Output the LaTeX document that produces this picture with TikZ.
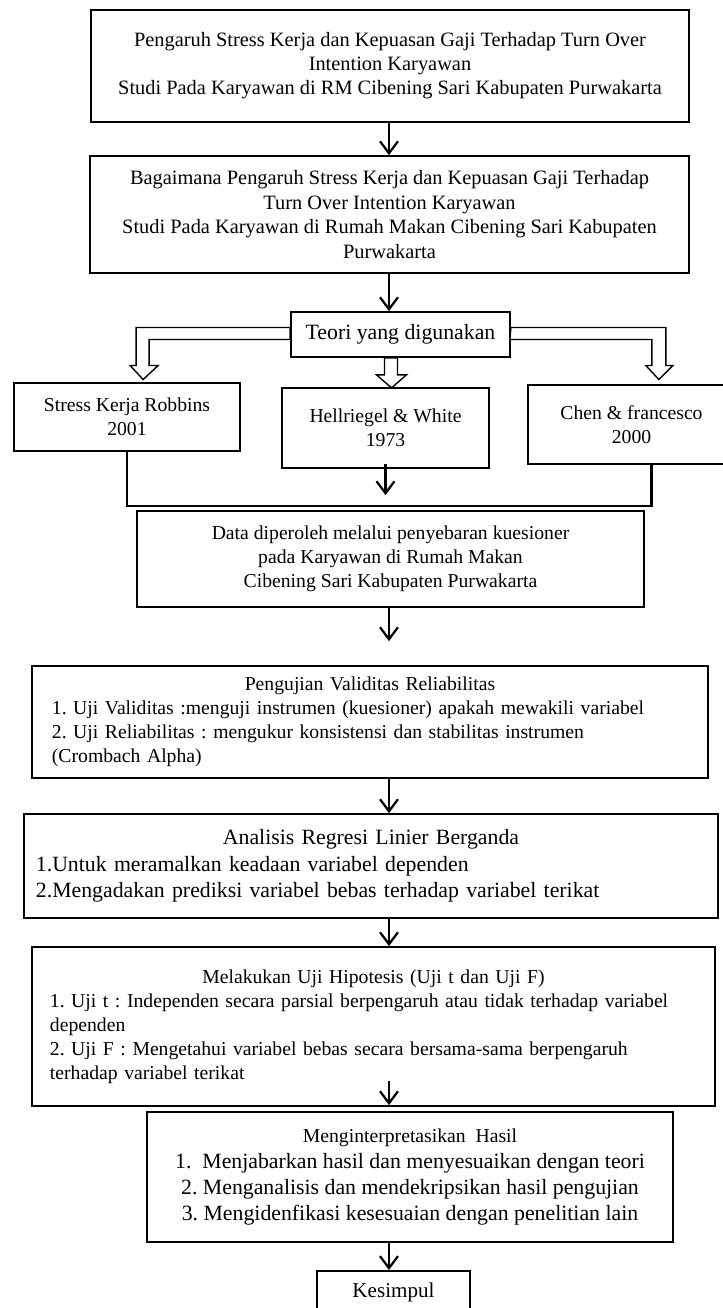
\documentclass[tikz,border=0pt]{standalone}
\usepackage{fontspec}
\setmainfont{Liberation Serif}
\usetikzlibrary{arrows.meta, positioning, calc}
\frenchspacing

\begin{document}
\begin{tikzpicture}[
    x=0.025cm, y=-0.025cm,
    kotak/.style={rectangle, draw, line width=1.2pt, align=center, inner sep=0pt, font=\fontsize{14}{17}\selectfont},
    daftar/.style={kotak, align=left, inner xsep=0.5cm},
    panah/.style={-{Straight Barb[length=3mm, width=4.5mm]}, line width=1.6pt},
    garis/.style={line width=1.6pt},
    blok/.style={draw, fill=white, line width=1pt}
]
    \useasboundingbox (0,0) rectangle (723,1308);
    \clip (0,0) rectangle (723,1308);
    \coordinate (sumbu) at (389,0);

    % judul dan rumusan masalah
    \node[kotak, minimum width=14.95cm, minimum height=2.8cm, font=\fontsize{14.5}{17}\selectfont] (judul) at (390,66) {Pengaruh Stress Kerja dan Kepuasan Gaji Terhadap Turn Over\\ Intention Karyawan\\ Studi Pada Karyawan di RM Cibening Sari Kabupaten Purwakarta};
    \node[kotak, minimum width=14.975cm, minimum height=2.925cm, font=\fontsize{14.5}{17.5}\selectfont] (rumusan) at (389.5,214.5) {Bagaimana Pengaruh Stress Kerja dan Kepuasan Gaji Terhadap\\ Turn Over Intention Karyawan\\ Studi Pada Karyawan di Rumah Makan Cibening Sari Kabupaten\\ Purwakarta};

    % teori
    \node[kotak, minimum width=5.475cm, minimum height=1.125cm, font=\fontsize{15.5}{18}\selectfont] (teori) at (400.5,334.5) {Teori yang digunakan};
    \node[kotak, minimum width=5.65cm, minimum height=1.7cm] (stress) at (127,417) {Stress Kerja Robbins\\ 2001};
    \node[kotak, minimum width=5.175cm, minimum height=2cm] (hell) at (385.5,428) {Hellriegel \& White\\ 1973};
    \node[kotak, minimum width=5.175cm, minimum height=1.975cm] (chen) at (631.5,424.5) {Chen \& francesco\\ 2000};

    \node[kotak, minimum width=12.675cm, minimum height=2.4cm] (data) at (390.5,559) {Data diperoleh melalui penyebaran kuesioner\\ pada Karyawan di Rumah Makan\\ Cibening Sari Kabupaten Purwakarta};

    % pengujian
    \node[daftar, text width=15.9cm, minimum height=2.8cm] (uji) at (370,722) {\centerline{Pengujian Validitas Reliabilitas}
        1. Uji Validitas :menguji instrumen (kuesioner) apakah mewakili variabel\\
        2. Uji Reliabilitas : mengukur konsistensi dan stabilitas instrumen\\
        (Crombach Alpha)};
    \node[daftar, inner xsep=0.3cm, text width=16.75cm, minimum height=2.6cm, font=\fontsize{15.5}{19}\selectfont] (analisis) at (371,866) {\centerline{Analisis Regresi Linier Berganda}
        1.Untuk meramalkan keadaan variabel dependen\\
        2.Mengadakan prediksi variabel bebas terhadap variabel terikat};
    \node[daftar, inner xsep=0.45cm, text width=16.175cm, minimum height=3.975cm] (hipo) at (373.5,1026.5) {\centerline{Melakukan Uji Hipotesis (Uji t dan Uji F)}
        1. Uji t : Independen secara parsial berpengaruh atau tidak terhadap variabel\\
        dependen\\
        2. Uji F : Mengetahui variabel bebas secara bersama-sama berpengaruh\\
        terhadap variabel terikat};
    \node[kotak, minimum width=13.15cm, minimum height=3.25cm, font=\fontsize{15.5}{18.5}\selectfont] (mengint) at (410,1177) {{\fontsize{14}{17}\selectfont Menginterpretasikan~ Hasil}\\
        1.~ Menjabarkan hasil dan menyesuaikan dengan teori\\
        2. Menganalisis dan mendekripsikan hasil pengujian\\
        3. Mengidenfikasi kesesuaian dengan penelitian lain};
    \node[kotak, anchor=north, minimum width=3.825cm, minimum height=1.1cm, font=\fontsize{15}{18}\selectfont] (kesimpul) at (393.5,1270) {Kesimpul};

    % panah
    \draw[panah] (judul.south -| sumbu) -- (rumusan.north -| sumbu);
    \draw[panah] (rumusan.south -| sumbu) -- (teori.north -| sumbu);
    \draw[blok] ($(teori.west)+(0,-7)$) -- ++(-154,0) -- ++(0,38) -- ++(-6,0) -- ++(13,14) -- ++(15,-14) -- ++(-9,0) -- ++(0,-26) -- ++(141,0) -- cycle;
    \draw[blok] ($(teori.east)+(0,-7)$) -- ++(155,0) -- ++(0,38) -- ++(7,0) -- ++(-14,14) -- ++(-13,-14) -- ++(6,0) -- ++(0,-26) -- ++(-142,0) -- cycle;
    \draw[blok] ($(teori.south)+(-16,0)$) -- ++(0,17) -- ++(-8,0) -- ++(15,13) -- ++(15,-13) -- ++(-9,0) -- ++(0,-17) -- cycle;
    \draw[garis] (stress.south) |- ($(data.north -| chen.south)+(20,-4)$) -- ($(chen.south)+(20,0)$);
    \draw[panah] ($(hell.south)+(0,-5)$) -- ($(hell.south |- data.north)+(0,-15)$);
    \draw[panah, shorten >=0.6cm] (data.south -| sumbu) -- (uji.north -| sumbu);
    \draw[panah] (uji.south -| sumbu) -- (analisis.north -| sumbu);
    \draw[panah] (analisis.south -| sumbu) -- (hipo.north -| sumbu);
    \draw[panah, shorten >=0.15cm] ($(hipo.south -| sumbu)+(0,-26)$) -- (mengint.north -| sumbu);
    \draw[panah] (mengint.south -| sumbu) -- (kesimpul.north -| sumbu);
\end{tikzpicture}
\end{document}
